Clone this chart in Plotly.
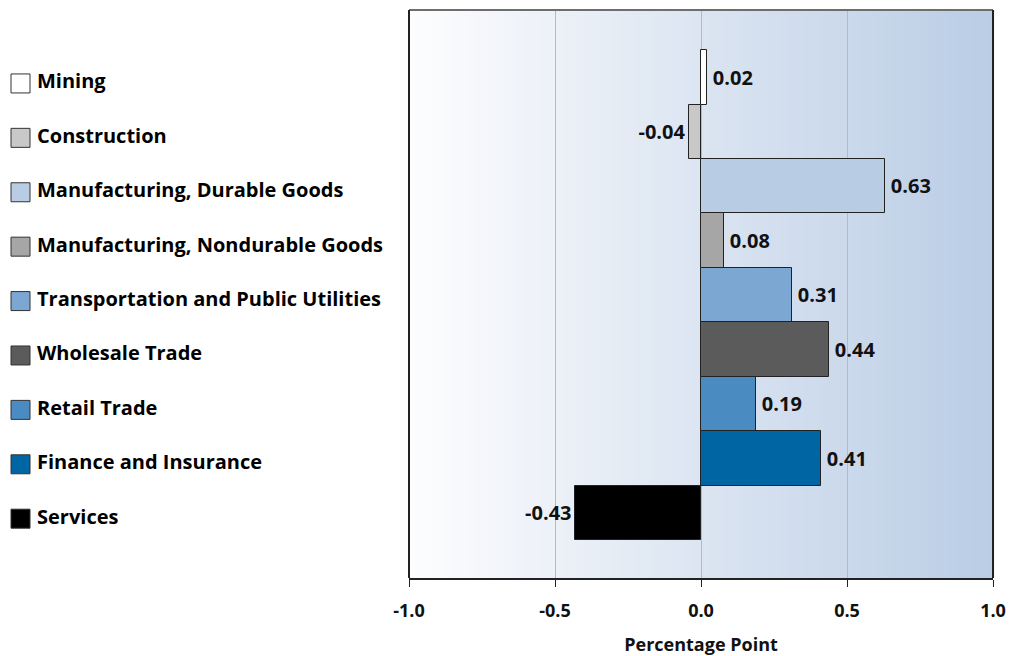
import plotly.graph_objects as go

categories = [
    "Mining",
    "Construction",
    "Manufacturing, Durable Goods",
    "Manufacturing, Nondurable Goods",
    "Transportation and Public Utilities",
    "Wholesale Trade",
    "Retail Trade",
    "Finance and Insurance",
    "Services",
]
values = [0.02, -0.04, 0.63, 0.08, 0.31, 0.44, 0.19, 0.41, -0.43]
colors = ["#ffffff", "#c8c8c8", "#b8cce4", "#a6a6a6", "#7ba7d2",
          "#5b5b5b", "#4a8bc2", "#0066a3", "#000000"]
tick_vals = [-1.0, -0.5, 0.0, 0.5, 1.0]
tick_text = ["-1.0", "-0.5", "0.0", "0.5", "1.0"]

FONT = "Open Sans"
W, H = 1009, 656
M_R, M_T, M_B = 16, 10, 78
plot_w = W - M_R
left_px = 409
x0_frac = left_px / plot_w
pos = list(range(len(categories)))
key_shift = 0.11

fig = go.Figure()

# gradient background as thin strips
n_strips = 80
c0 = (253, 253, 254)
c1 = (186, 205, 229)
for s in range(n_strips):
    t = s / (n_strips - 1)
    col = tuple(round(c0[k] + (c1[k] - c0[k]) * t) for k in range(3))
    fig.add_shape(
        type="rect", xref="x domain", yref="y domain",
        x0=s / n_strips, x1=(s + 1) / n_strips + 0.002, y0=0, y1=1,
        fillcolor=f"rgb{col}", line={"width": 0}, layer="below",
    )

fig.add_trace(
    go.Bar(
        x=values,
        y=pos,
        orientation="h",
        width=1.0,
        marker={"color": colors, "line": {"color": "#222222", "width": 1}},
        text=[f"\u2009{v:.2f}" if v >= 0 else f"{v:.2f}" for v in values],
        textposition="outside",
        textfont={"family": FONT, "size": 20, "color": "#111111", "weight": "bold"},
        cliponaxis=False,
        showlegend=False,
        hoverinfo="skip",
    )
)

# left-hand key: squares + labels on their own pixel-scaled axis
fig.add_trace(
    go.Scatter(
        x=[20.5] * len(categories),
        y=[p + key_shift for p in pos],
        xaxis="x2",
        yaxis="y",
        mode="markers",
        marker={"symbol": "square", "size": 19, "color": colors,
                "line": {"color": "#333333", "width": 1}},
        cliponaxis=False,
        showlegend=False,
        hoverinfo="skip",
    )
)
fig.add_trace(
    go.Scatter(
        x=[37] * len(categories),
        y=[p + key_shift for p in pos],
        xaxis="x2",
        yaxis="y",
        mode="text",
        text=categories,
        textposition="middle right",
        textfont={"family": FONT, "size": 20, "color": "#000000", "weight": "bold"},
        cliponaxis=False,
        showlegend=False,
        hoverinfo="skip",
    )
)

fig.update_layout(
    width=W,
    height=H,
    margin={"l": 0, "r": M_R, "t": M_T, "b": M_B, "autoexpand": False},
    paper_bgcolor="#ffffff",
    plot_bgcolor="rgba(0,0,0,0)",
    font={"family": FONT, "color": "#111111"},
    bargap=0,
    xaxis={
        "domain": [x0_frac, 1],
        "range": [-1, 1],
        "automargin": False,
        "tickvals": tick_vals,
        "ticktext": tick_text,
        "tickfont": {"family": FONT, "size": 18, "weight": "bold"},
        "ticks": "outside",
        "ticklen": 7,
        "tickcolor": "#222222",
        "ticklabelstandoff": 8,
        "showgrid": True,
        "gridcolor": "#a3bde0",
        "gridwidth": 1,
        "zeroline": False,
        "showline": True,
        "linecolor": "#222222",
        "linewidth": 2,
        "mirror": False,
        "title": {"text": "Percentage Point",
                  "font": {"family": FONT, "size": 18, "weight": "bold"},
                  "standoff": 18},
    },
    xaxis2={
        "domain": [0, x0_frac],
        "range": [0, left_px],
        "visible": False,
        "anchor": "y",
    },
    yaxis={
        "range": [9.2, -1.24],
        "visible": False,
    },
)

# frame: grey top, dark sides
fig.add_shape(type="line", xref="x domain", yref="y domain", x0=0, x1=1, y0=1, y1=1,
              line={"color": "#6e6e6e", "width": 2})
fig.add_shape(type="line", xref="x domain", yref="y domain", x0=0, x1=0, y0=0, y1=1,
              line={"color": "#222222", "width": 2})
fig.add_shape(type="line", xref="x domain", yref="y domain", x0=1, x1=1, y0=0, y1=1,
              line={"color": "#222222", "width": 2})

# drop the default page margin so the figure fills the window exactly
fig.write_html(
    "out.html",
    config={"displayModeBar": False},
    post_script="document.body.style.margin='0';document.body.style.overflow='hidden';",
)
